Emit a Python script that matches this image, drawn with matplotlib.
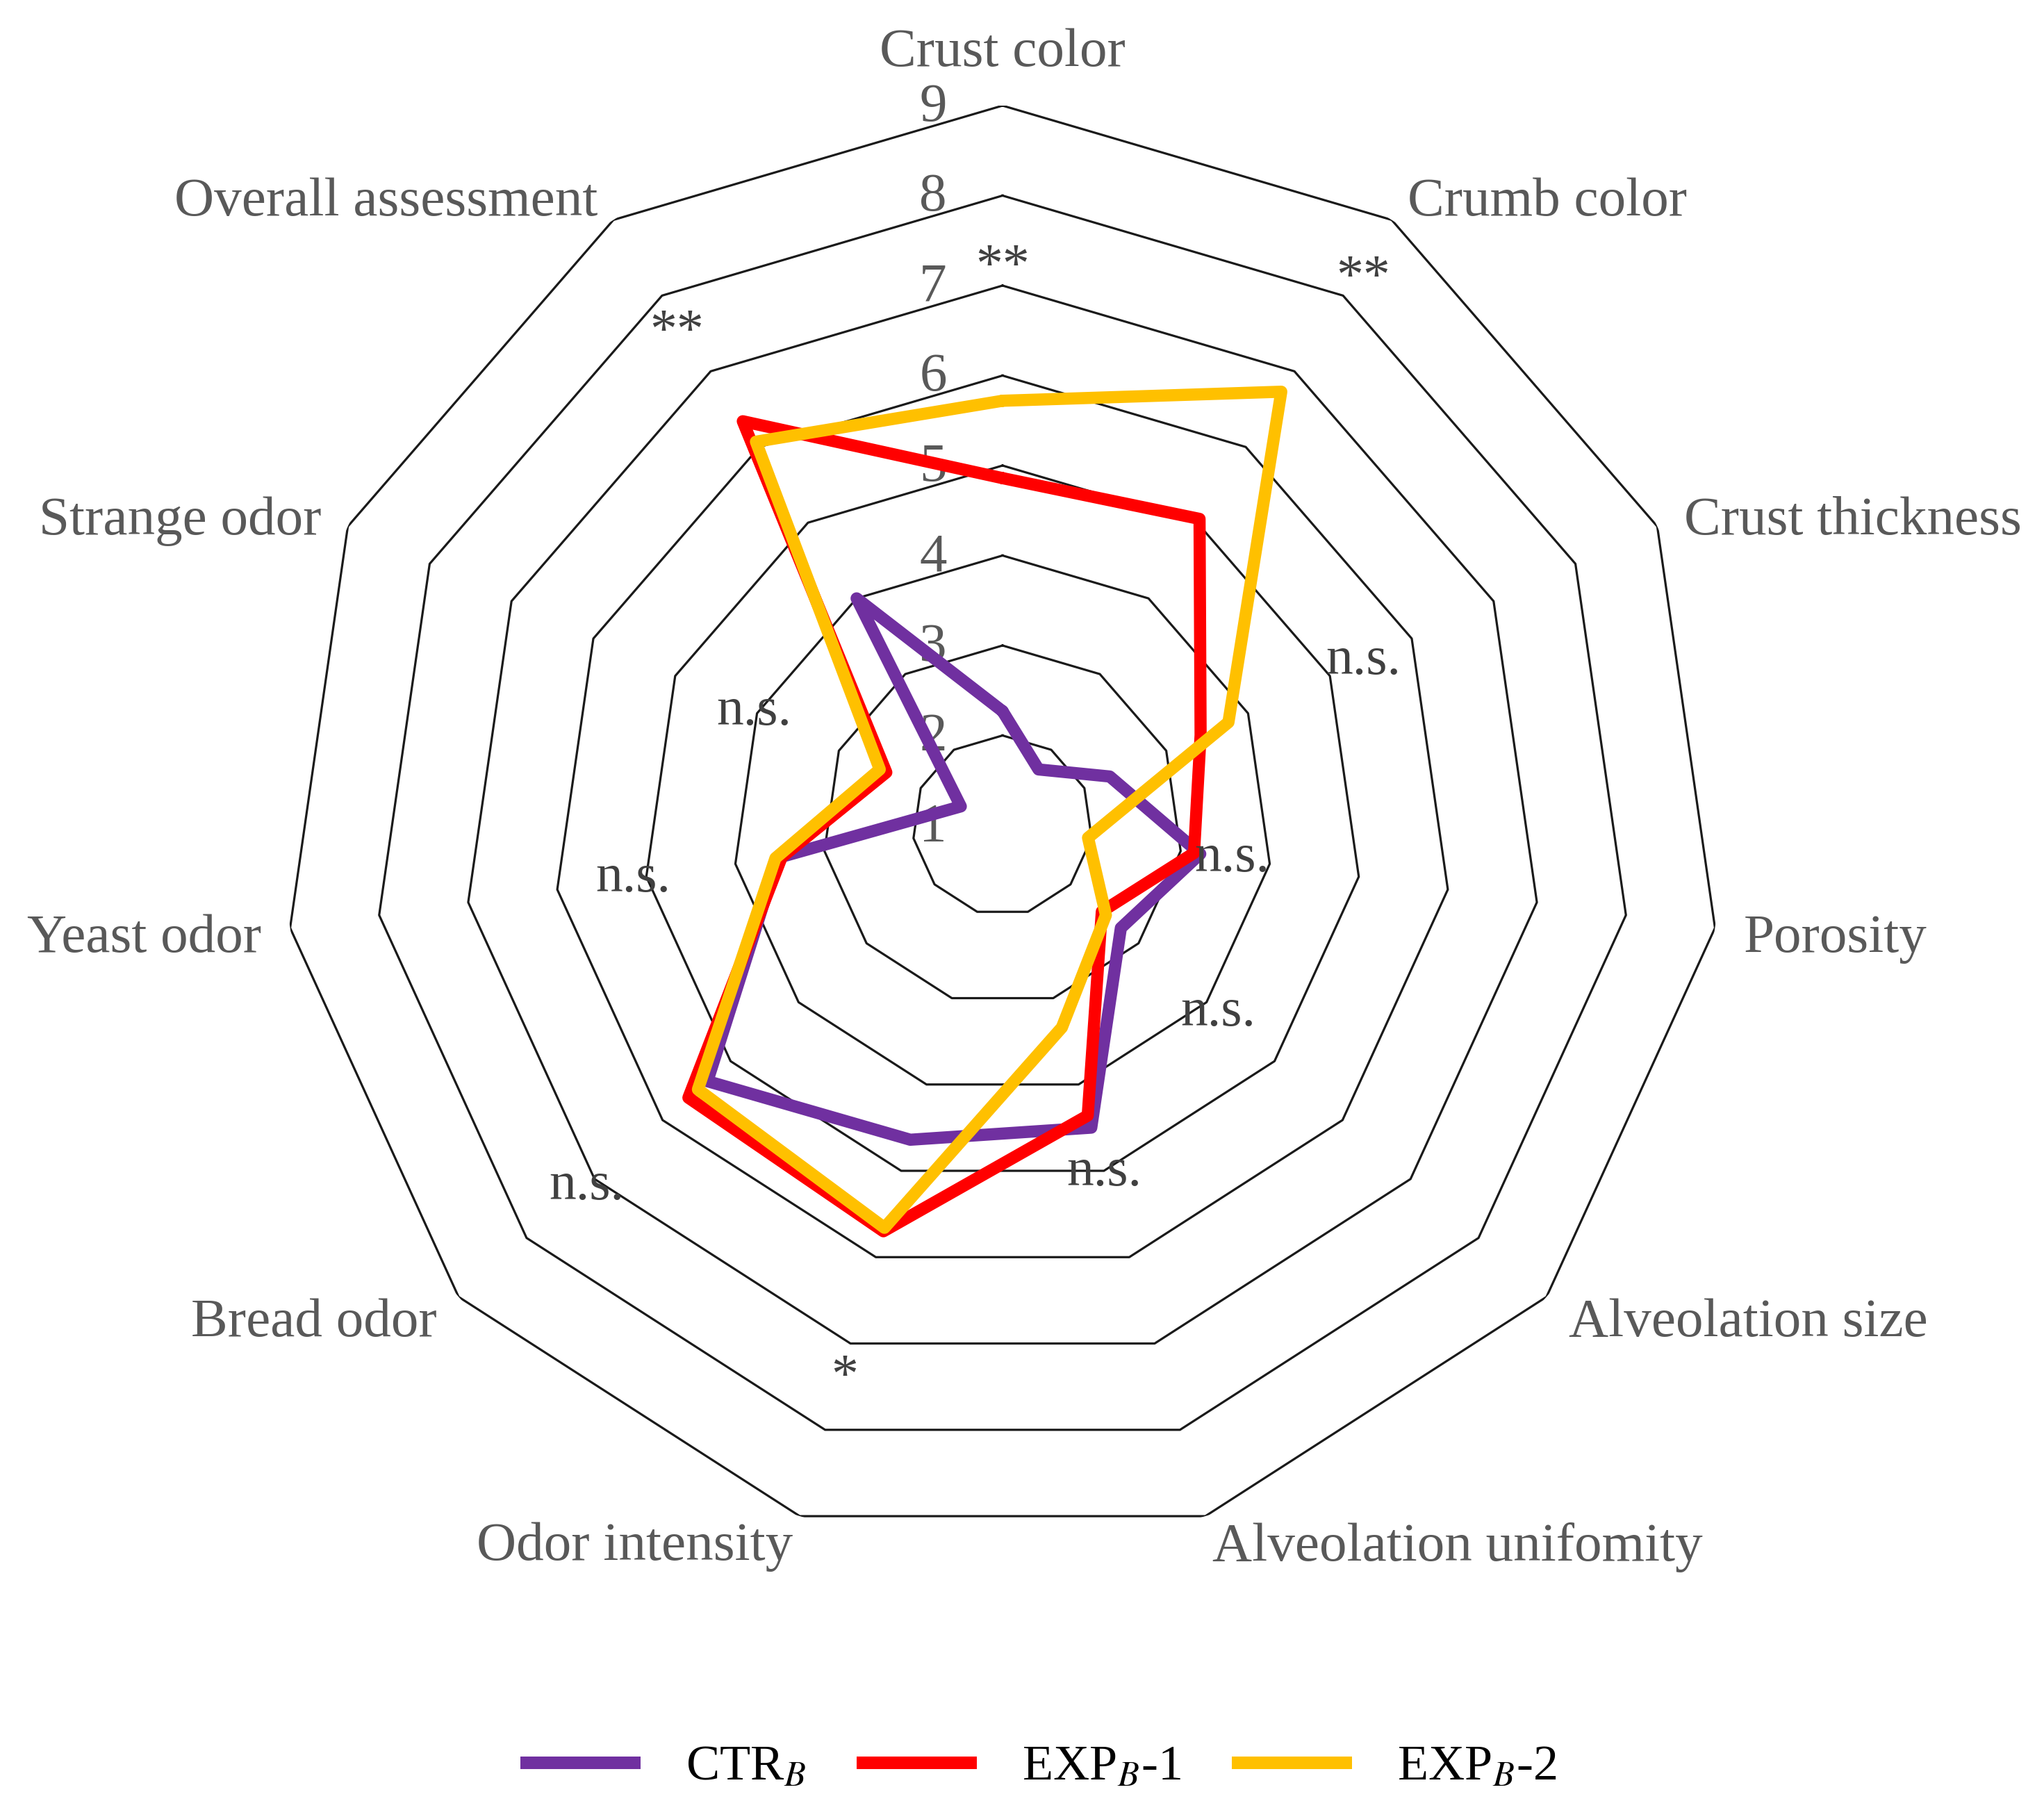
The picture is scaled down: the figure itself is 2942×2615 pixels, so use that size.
import numpy as np
import matplotlib.pyplot as plt
from matplotlib.lines import Line2D

# sensory attributes, clockwise from the top
categories = ["Crust color", "Crumb color", "Crust thickness", "Porosity",
              "Alveolation size", "Alveolation unifomity", "Odor intensity",
              "Bread odor", "Yeast odor", "Strange odor", "Overall assessment"]

ctr_b = [2.27, 1.74, 2.31, 3.22, 2.74, 4.50, 4.64, 5.34, 3.52, 1.51, 4.00]
exp_b1 = [4.86, 5.05, 3.42, 3.15, 2.46, 4.36, 5.70, 5.62, 3.48, 2.42, 6.34]
exp_b2 = [5.72, 6.73, 3.76, 1.96, 2.52, 3.34, 5.66, 5.48, 3.55, 2.50, 6.07]

# significance marks and the radius they sit at
sig_marks = ["**", "**", "n.s.", "n.s.", "n.s.", "n.s.", "*", "n.s.", "n.s.", "n.s.", "**"]
sig_radius = [7.36, 8.41, 5.41, 3.58, 4.17, 5.02, 7.23, 7.12, 5.15, 4.04, 7.70]

ring_levels = [2, 3, 4, 5, 6, 7, 8, 9]
tick_levels = [1, 2, 3, 4, 5, 6, 7, 8, 9]

series = [("CTR$_{\\mathit{B}}$", ctr_b, "#7030A0"),
          ("EXP$_{\\mathit{B}}$-1", exp_b1, "#FF0000"),
          ("EXP$_{\\mathit{B}}$-2", exp_b2, "#FFC000")]

plt.rcParams["font.family"] = ["Liberation Serif", "DejaVu Serif"]
plt.rcParams["mathtext.fontset"] = "stix"

W, H, DPI = 2942, 2615, 200
PT = 72 / DPI  # points per pixel
fig = plt.figure(figsize=(W / DPI, H / DPI), dpi=DPI)

cx, cy, R = 1443, 1188, 1036
ax = fig.add_axes([(cx - R) / W, (H - cy - R) / H, 2 * R / W, 2 * R / H], projection="polar")
ax.set_theta_zero_location("N")
ax.set_theta_direction(-1)
ax.set_ylim(1, 9)
ax.axis("off")

n = len(categories)
angles = np.linspace(0, 2 * np.pi, n, endpoint=False)
closed = np.append(angles, angles[0])

# polygon grid
for lv in ring_levels:
    ax.plot(closed, [lv] * (n + 1), color="#1a1a1a", lw=1.15, zorder=1)

for z, (label, vals, color) in enumerate(series):
    ax.plot(closed, vals + vals[:1], color=color, lw=6.3,
            solid_joinstyle="round", solid_capstyle="round", zorder=3 + z)

# radial tick labels on the top axis
for lv in tick_levels:
    ax.annotate(str(lv), xy=(0, lv), xytext=(-100 * PT, -3 * PT), textcoords="offset points",
                ha="center", va="center", fontsize=28.5, color="#595959", zorder=2)

# category labels outside the outer ring
for ang, cat in zip(angles, categories):
    sx, sy = np.sin(ang), np.cos(ang)
    if abs(sx) < 0.1:
        ha, d = "center", 86
    else:
        ha, d = ("left" if sx > 0 else "right"), 42
    if sy < -0.9:
        d = 36
    ax.annotate(cat, xy=(ang, 9), xytext=(d * sx * PT, (d * sy - 10) * PT), textcoords="offset points",
                ha=ha, va="center", fontsize=28.5, color="#595959", annotation_clip=False)

# significance marks
for ang, mark, rad in zip(angles, sig_marks, sig_radius):
    dy = -21 if "*" in mark else 0
    ax.annotate(mark, xy=(ang, rad), xytext=(0, dy * PT), textcoords="offset points",
                ha="center", va="center", fontsize=28, color="#404040", zorder=6)

handles = [Line2D([], [], color=c, lw=6.5, solid_capstyle="butt") for _, _, c in series]
fig.legend(handles, [s[0] for s in series], loc="center",
           bbox_to_anchor=(1495 / W, 1 - 2544 / H), ncol=3, frameon=False,
           fontsize=26, handlelength=2.4, handletextpad=0.9, columnspacing=1.0)

fig.savefig("out.png", dpi=DPI)
